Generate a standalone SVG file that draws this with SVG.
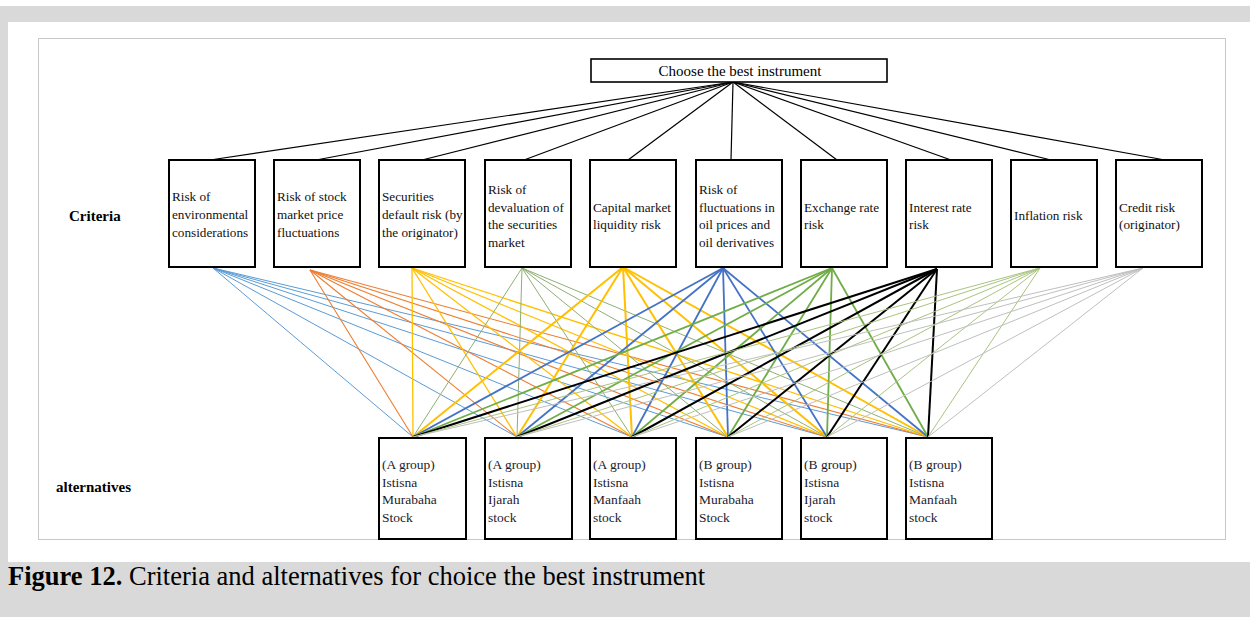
<svg xmlns="http://www.w3.org/2000/svg" width="1250" height="617" viewBox="0 0 1250 617">
<style>
.box{fill:#fff;stroke:#000;stroke-width:2}
.tbox{fill:#fff;stroke:#000;stroke-width:1.6}
.t{font-family:"Liberation Serif","Times New Roman",serif;font-size:13.2px;fill:#111}
.a{font-family:"Liberation Serif","Times New Roman",serif;font-size:13.5px;fill:#1c1c2c}
.lbl{font-family:"Liberation Serif","Times New Roman",serif;font-size:15px;font-weight:bold;fill:#000}
.top line{stroke:#000;stroke-width:1.2}
.c1 line{stroke:#5b9bd5;stroke-width:1}
.c2 line{stroke:#ed7d31;stroke-width:1.1}
.c3 line{stroke:#ffc000;stroke-width:1.3}
.c4 line{stroke:#8fae74;stroke-width:1}
.c5 line{stroke:#ffc000;stroke-width:2}
.c6 line{stroke:#4472c4;stroke-width:1.8}
.c7 line{stroke:#70ad47;stroke-width:1.8}
.c8 line{stroke:#000;stroke-width:2}
.c9 line{stroke:#a9c47f;stroke-width:1}
.c10 line{stroke:#bfbfbf;stroke-width:1}
</style>
<rect x="0" y="0" width="1250" height="617" fill="#d9d9d9"/>
<rect x="0" y="0" width="1250" height="6" fill="#fff"/>
<rect x="8" y="22" width="1242" height="540" fill="#fff"/>
<rect x="38.5" y="38.5" width="1187" height="501" fill="#fff" stroke="#c8c8c8" stroke-width="1"/>

<g id="connectors">
<g class="top">
<line x1="733" y1="82" x2="210" y2="160"/>
<line x1="733" y1="82" x2="316" y2="160"/>
<line x1="733" y1="82" x2="422" y2="160"/>
<line x1="733" y1="82" x2="524" y2="160"/>
<line x1="733" y1="82" x2="628" y2="160"/>
<line x1="733" y1="82" x2="731" y2="160"/>
<line x1="733" y1="82" x2="837" y2="160"/>
<line x1="733" y1="82" x2="951" y2="160"/>
<line x1="733" y1="82" x2="1051" y2="160"/>
<line x1="733" y1="82" x2="1165" y2="160"/>
</g>
<g class="c1">
<line x1="213" y1="268" x2="413" y2="437"/><line x1="213" y1="268" x2="517" y2="437"/><line x1="213" y1="268" x2="632" y2="437"/><line x1="213" y1="268" x2="728" y2="437"/><line x1="213" y1="268" x2="827" y2="437"/><line x1="213" y1="268" x2="928" y2="437"/>
</g>
<g class="c2">
<line x1="310" y1="270" x2="413" y2="437"/><line x1="310" y1="270" x2="517" y2="437"/><line x1="310" y1="270" x2="632" y2="437"/><line x1="310" y1="270" x2="728" y2="437"/><line x1="310" y1="270" x2="827" y2="437"/><line x1="310" y1="270" x2="928" y2="437"/>
</g>
<g class="c3">
<line x1="412" y1="268" x2="413" y2="437"/><line x1="412" y1="268" x2="517" y2="437"/><line x1="412" y1="268" x2="632" y2="437"/><line x1="412" y1="268" x2="728" y2="437"/><line x1="412" y1="268" x2="827" y2="437"/><line x1="412" y1="268" x2="928" y2="437"/>
</g>
<g class="c4">
<line x1="522" y1="268" x2="413" y2="437"/><line x1="522" y1="268" x2="517" y2="437"/><line x1="522" y1="268" x2="632" y2="437"/><line x1="522" y1="268" x2="728" y2="437"/><line x1="522" y1="268" x2="827" y2="437"/><line x1="522" y1="268" x2="928" y2="437"/>
</g>
<g class="c5">
<line x1="623" y1="267" x2="413" y2="437"/><line x1="623" y1="267" x2="517" y2="437"/><line x1="623" y1="267" x2="632" y2="437"/><line x1="623" y1="267" x2="728" y2="437"/><line x1="623" y1="267" x2="827" y2="437"/><line x1="623" y1="267" x2="928" y2="437"/>
</g>
<g class="c6">
<line x1="723" y1="268" x2="413" y2="437"/><line x1="723" y1="268" x2="517" y2="437"/><line x1="723" y1="268" x2="632" y2="437"/><line x1="723" y1="268" x2="728" y2="437"/><line x1="723" y1="268" x2="827" y2="437"/><line x1="723" y1="268" x2="928" y2="437"/>
</g>
<g class="c7">
<line x1="832" y1="268" x2="413" y2="437"/><line x1="832" y1="268" x2="517" y2="437"/><line x1="832" y1="268" x2="632" y2="437"/><line x1="832" y1="268" x2="728" y2="437"/><line x1="832" y1="268" x2="827" y2="437"/><line x1="832" y1="268" x2="928" y2="437"/>
</g>
<g class="c8">
<line x1="937" y1="269" x2="413" y2="437"/><line x1="937" y1="269" x2="517" y2="437"/><line x1="937" y1="269" x2="632" y2="437"/><line x1="937" y1="269" x2="728" y2="437"/><line x1="937" y1="269" x2="827" y2="437"/><line x1="937" y1="269" x2="928" y2="437"/>
</g>
<g class="c9">
<line x1="1040" y1="268" x2="413" y2="437"/><line x1="1040" y1="268" x2="517" y2="437"/><line x1="1040" y1="268" x2="632" y2="437"/><line x1="1040" y1="268" x2="728" y2="437"/><line x1="1040" y1="268" x2="827" y2="437"/><line x1="1040" y1="268" x2="928" y2="437"/>
</g>
<g class="c10">
<line x1="1143" y1="268" x2="413" y2="437"/><line x1="1143" y1="268" x2="517" y2="437"/><line x1="1143" y1="268" x2="632" y2="437"/><line x1="1143" y1="268" x2="728" y2="437"/><line x1="1143" y1="268" x2="827" y2="437"/><line x1="1143" y1="268" x2="928" y2="437"/>
</g>
</g>

<g id="goal">
<rect class="tbox" x="591" y="59" width="296" height="23"/>
<text x="740" y="76" text-anchor="middle" font-family="Liberation Serif, Times New Roman, serif" font-size="15" fill="#000">Choose the best instrument</text>
</g>

<text id="label-criteria" class="lbl" x="69" y="221">Criteria</text>
<text id="label-alternatives" class="lbl" x="56" y="492">alternatives</text>

<g id="crit1"><rect class="box" x="169" y="160" width="86" height="107"/>
<text class="t" x="172"><tspan x="172" y="201">Risk of</tspan><tspan x="172" y="219">environmental</tspan><tspan x="172" y="237">considerations</tspan></text></g>
<g id="crit2"><rect class="box" x="274" y="160" width="86" height="107"/>
<text class="t" x="277"><tspan x="277" y="201">Risk of stock</tspan><tspan x="277" y="219">market price</tspan><tspan x="277" y="237">fluctuations</tspan></text></g>
<g id="crit3"><rect class="box" x="379" y="160" width="86" height="107"/>
<text class="t" x="382"><tspan x="382" y="201">Securities</tspan><tspan x="382" y="219">default risk (by</tspan><tspan x="382" y="237">the originator)</tspan></text></g>
<g id="crit4"><rect class="box" x="485" y="160" width="86" height="107"/>
<text class="t" x="488"><tspan x="488" y="194">Risk of</tspan><tspan x="488" y="211.5">devaluation of</tspan><tspan x="488" y="229">the securities</tspan><tspan x="488" y="247">market</tspan></text></g>
<g id="crit5"><rect class="box" x="590" y="160" width="86" height="107"/>
<text class="t" x="593"><tspan x="593" y="211.5">Capital market</tspan><tspan x="593" y="229">liquidity risk</tspan></text></g>
<g id="crit6"><rect class="box" x="696" y="160" width="86" height="107"/>
<text class="t" x="699"><tspan x="699" y="194">Risk of</tspan><tspan x="699" y="211.5">fluctuations in</tspan><tspan x="699" y="229">oil prices and</tspan><tspan x="699" y="247">oil derivatives</tspan></text></g>
<g id="crit7"><rect class="box" x="801" y="160" width="86" height="107"/>
<text class="t" x="804"><tspan x="804" y="211.5">Exchange rate</tspan><tspan x="804" y="229">risk</tspan></text></g>
<g id="crit8"><rect class="box" x="906" y="160" width="86" height="107"/>
<text class="t" x="909"><tspan x="909" y="211.5">Interest rate</tspan><tspan x="909" y="229">risk</tspan></text></g>
<g id="crit9"><rect class="box" x="1011" y="160" width="86" height="107"/>
<text class="t" x="1014" y="220">Inflation risk</text></g>
<g id="crit10"><rect class="box" x="1116" y="160" width="86" height="107"/>
<text class="t" x="1119"><tspan x="1119" y="211.5">Credit risk</tspan><tspan x="1119" y="229">(originator)</tspan></text></g>

<g id="alt1"><rect class="box" x="379" y="438" width="87" height="101"/>
<text class="a"><tspan x="382" y="469">(A group)</tspan><tspan x="382" y="487">Istisna</tspan><tspan x="382" y="504">Murabaha</tspan><tspan x="382" y="522">Stock</tspan></text></g>
<g id="alt2"><rect class="box" x="485" y="438" width="87" height="101"/>
<text class="a"><tspan x="488" y="469">(A group)</tspan><tspan x="488" y="487">Istisna</tspan><tspan x="488" y="504">Ijarah</tspan><tspan x="488" y="522">stock</tspan></text></g>
<g id="alt3"><rect class="box" x="590" y="438" width="86" height="101"/>
<text class="a"><tspan x="593" y="469">(A group)</tspan><tspan x="593" y="487">Istisna</tspan><tspan x="593" y="504">Manfaah</tspan><tspan x="593" y="522">stock</tspan></text></g>
<g id="alt4"><rect class="box" x="696" y="438" width="86" height="101"/>
<text class="a"><tspan x="699" y="469">(B group)</tspan><tspan x="699" y="487">Istisna</tspan><tspan x="699" y="504">Murabaha</tspan><tspan x="699" y="522">Stock</tspan></text></g>
<g id="alt5"><rect class="box" x="801" y="438" width="86" height="101"/>
<text class="a"><tspan x="804" y="469">(B group)</tspan><tspan x="804" y="487">Istisna</tspan><tspan x="804" y="504">Ijarah</tspan><tspan x="804" y="522">stock</tspan></text></g>
<g id="alt6"><rect class="box" x="906" y="438" width="86" height="101"/>
<text class="a"><tspan x="909" y="469">(B group)</tspan><tspan x="909" y="487">Istisna</tspan><tspan x="909" y="504">Manfaah</tspan><tspan x="909" y="522">stock</tspan></text></g>

<text id="caption" x="8" y="585" font-family="Liberation Serif, Times New Roman, serif" font-size="26.5" fill="#000"><tspan font-weight="bold">Figure 12.</tspan> Criteria and alternatives for choice the best instrument</text>
</svg>
